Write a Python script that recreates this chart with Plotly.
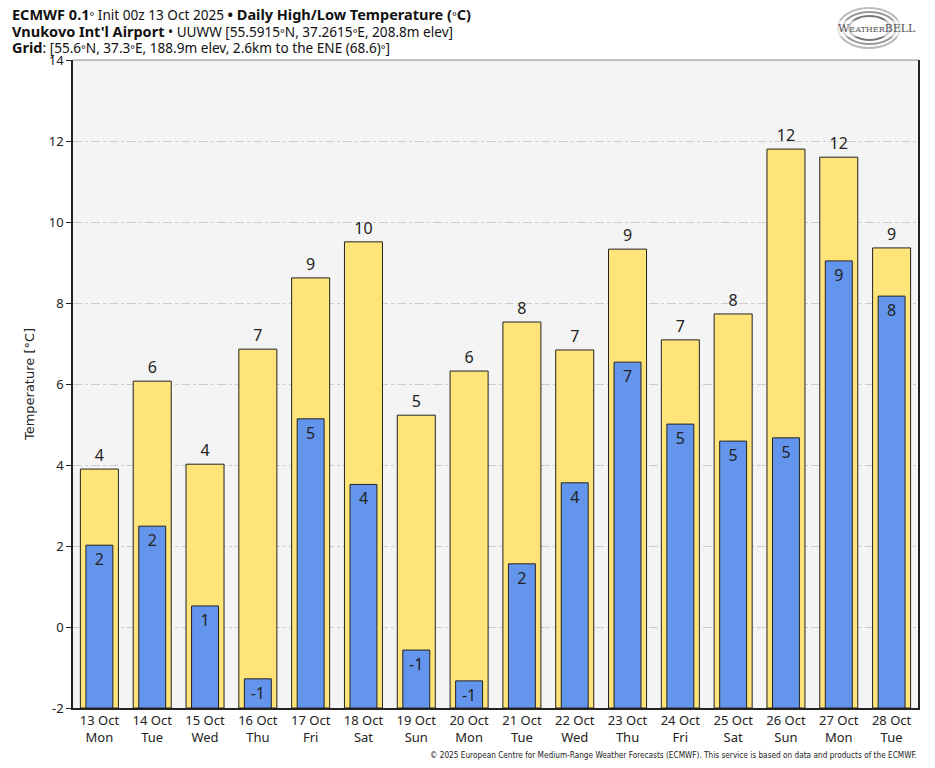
import plotly.graph_objects as go

dates = ["13 Oct", "14 Oct", "15 Oct", "16 Oct", "17 Oct", "18 Oct", "19 Oct", "20 Oct",
         "21 Oct", "22 Oct", "23 Oct", "24 Oct", "25 Oct", "26 Oct", "27 Oct", "28 Oct"]
weekdays = ["Mon", "Tue", "Wed", "Thu", "Fri", "Sat", "Sun", "Mon",
            "Tue", "Wed", "Thu", "Fri", "Sat", "Sun", "Mon", "Tue"]
highs = [3.90, 6.07, 4.02, 6.86, 8.62, 9.51, 5.23, 6.32,
         7.53, 6.84, 9.33, 7.09, 7.73, 11.80, 11.60, 9.36]
lows = [2.02, 2.49, 0.52, -1.28, 5.14, 3.52, -0.57, -1.33,
        1.56, 3.56, 6.54, 5.01, 4.59, 4.67, 9.04, 8.17]
y_ticks = [-2, 0, 2, 4, 6, 8, 10, 12, 14]

BASE = -2
L, R, T, B = 73, 17, 60, 60
W, H = 935, 768
PW, PH = W - L - R, H - T - B

def px(x):
    return (x - L) / PW

def py(y):
    return (H - B - y) / PH

cats = list(range(len(dates)))
ticktext = [f"{d}<br>{w}" for d, w in zip(dates, weekdays)]

fig = go.Figure()
fig.add_trace(go.Bar(
    x=cats, y=[h - BASE for h in highs], base=BASE, width=0.72,
    marker=dict(color="#FFE47A", line=dict(color="#222222", width=1)),
    text=[str(round(h)) for h in highs], textposition="outside",
    textfont=dict(family="Noto Sans", size=16, color="#222222"),
    cliponaxis=False, hoverinfo="skip", textangle=0,
))
fig.add_trace(go.Bar(
    x=cats, y=[l - BASE for l in lows], base=BASE, width=0.51,
    marker=dict(color="#6495ED", line=dict(color="#222222", width=1)),
    text=[str(round(l)) for l in lows], textposition="inside", insidetextanchor="end",
    textfont=dict(family="Noto Sans", size=16, color="#222222"),
    constraintext="none", hoverinfo="skip", textangle=0,
))

fig.update_layout(
    width=W, height=H, barmode="overlay", showlegend=False,
    margin=dict(l=L, r=R, t=T, b=B, autoexpand=False),
    paper_bgcolor="white", plot_bgcolor="#F4F4F4",
    font=dict(family="Noto Sans", color="#222222"),
)
fig.update_xaxes(
    tickmode="array", tickvals=cats, ticktext=ticktext, range=[-0.5, len(dates) - 0.5],
    showgrid=False, showline=True, linecolor="#222222", linewidth=1.5,
    ticks="", tickfont=dict(family="Noto Sans", size=13, color="#222222"),
    fixedrange=True,
)
fig.update_yaxes(
    range=[-2, 14], tickvals=y_ticks, ticktext=[str(v) for v in y_ticks],
    showgrid=True, gridcolor="#CCCCCC", griddash="dashdot", gridwidth=1,
    zeroline=False, showline=True, linecolor="#222222", linewidth=1.5, mirror=True,
    ticks="outside", ticklen=5, tickcolor="#222222",
    tickfont=dict(family="Noto Sans", size=13, color="#222222"),
    title=dict(text="Temperature [°C]", font=dict(family="DejaVu Sans", size=13, color="#222222"), standoff=11),
)

# top border (lighter)
fig.add_shape(type="line", xref="paper", yref="paper", x0=0, x1=1, y0=1, y1=1,
              line=dict(color="#888888", width=1))

def reg(s):
    return f"<span style='font-size:13.6px'>{s}</span>"

deg = "<span style='font-size:11px'>°</span>"
title_font = dict(family="Noto Sans", size=14.5, color="#111111")
lines = [
    (14, f"<b>ECMWF 0.1</b>{deg}" + reg(" Init 00z 13 Oct 2025 ") + f"<b>•</b> <b>Daily High/Low Temperature (</b>{deg}<b>C)</b>"),
    (31, "<b>Vnukovo Int'l Airport</b>" + reg(f" • UUWW [55.5915{deg}N, 37.2615{deg}E, 208.8m elev]")),
    (47, "<b>Grid</b>" + reg(f": [55.6{deg}N, 37.3{deg}E, 188.9m elev, 2.6km to the ENE (68.6){deg}]")),
]
for yy, txt in lines:
    fig.add_annotation(text=txt, xref="paper", yref="paper", x=px(10), y=py(yy),
                       xanchor="left", yanchor="middle", showarrow=False, font=title_font)

# footer
fig.add_annotation(
    text="© 2025 European Centre for Medium-Range Weather Forecasts (ECMWF). This service is based on data and products of the ECMWF.",
    xref="paper", yref="paper", x=px(919), y=py(755), xanchor="right", yanchor="middle",
    showarrow=False, font=dict(family="Liberation Sans Narrow, DejaVu Sans Condensed, sans-serif", size=8.2, color="#222222"))

# logo approximation
for (x0, y0, x1, y1, c) in [(838, 8, 900, 48, "#BBBBBB"), (843, 12, 896, 44, "#999999"), (849, 16, 890, 40, "#777777")]:
    fig.add_shape(type="circle", xref="paper", yref="paper", x0=px(x0), x1=px(x1), y0=py(y1), y1=py(y0),
                  line=dict(color=c, width=2), fillcolor="rgba(0,0,0,0)")
fig.add_annotation(text="W<span style='font-size:8px'>EATHER</span>BELL", xref="paper", yref="paper",
                   x=px(877), y=py(28), xanchor="center", yanchor="middle", showarrow=False,
                   font=dict(family="DejaVu Serif", size=11, color="#555555"), bgcolor="rgba(255,255,255,0.6)")

fig.write_html("out.html", config={"displayModeBar": False},
               post_script="document.body.style.margin='0';document.body.style.overflow='hidden';")
